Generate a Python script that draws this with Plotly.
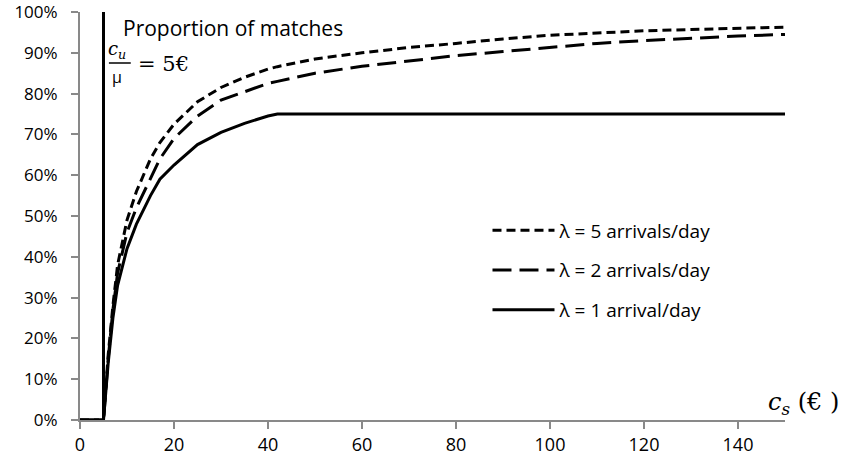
import plotly.graph_objects as go

# ---- data ----
cs = [0, 5, 6, 7, 8, 10, 12, 15, 17, 20, 25, 30, 35, 40, 42, 50, 60, 70, 80, 90, 100, 110, 120, 130, 140, 150]
lam5 = [0, 0, 0.16, 0.28, 0.38, 0.49, 0.56, 0.64, 0.68, 0.725, 0.78, 0.815, 0.84, 0.86, 0.866, 0.885, 0.90, 0.913, 0.923, 0.934, 0.943, 0.949, 0.954, 0.957, 0.960, 0.963]
lam2 = [0, 0, 0.15, 0.27, 0.36, 0.46, 0.52, 0.59, 0.64, 0.69, 0.745, 0.784, 0.805, 0.825, 0.83, 0.85, 0.867, 0.88, 0.893, 0.903, 0.913, 0.923, 0.930, 0.936, 0.941, 0.945]
lam1 = [0, 0, 0.14, 0.25, 0.33, 0.42, 0.48, 0.55, 0.59, 0.625, 0.675, 0.705, 0.727, 0.745, 0.75, 0.75, 0.75, 0.75, 0.75, 0.75, 0.75, 0.75, 0.75, 0.75, 0.75, 0.75]
names = ["λ = 5 arrivals/day", "λ = 2 arrivals/day", "λ = 1 arrival/day"]
cu_mu = 5
x_ticks = [0, 20, 40, 60, 80, 100, 120, 140]
y_ticks = [0, 0.1, 0.2, 0.3, 0.4, 0.5, 0.6, 0.7, 0.8, 0.9, 1.0]
y_labels = ["0%", "10%", "20%", "30%", "40%", "50%", "60%", "70%", "80%", "90%", "100%"]

FONT = "'Open Sans', Lato, sans-serif"
SERIF = "'DejaVu Serif', serif"

fig = go.Figure()
for y, name, dash in [(lam5, names[0], "9px,5px"), (lam2, names[1], "19px,8px"), (lam1, names[2], "solid")]:
    fig.add_trace(go.Scatter(x=cs, y=y, mode="lines", name=name,
                             line=dict(color="black", width=3, dash=dash)))

fig.add_shape(type="line", xref="x", yref="y", x0=cu_mu, x1=cu_mu, y0=0, y1=1,
              line=dict(color="black", width=3))

fig.add_annotation(xref="paper", yref="paper", x=0.058, y=0.962, xanchor="left", yanchor="middle",
                   text="Proportion of matches", showarrow=False,
                   font=dict(family=FONT, size=21, color="black"))
# fraction c_u / mu = 5€
fig.add_annotation(xref="paper", yref="paper", x=0.0525, y=0.906, xanchor="center", yanchor="middle",
                   text="<i>c<sub>u</sub></i>", showarrow=False,
                   font=dict(family=SERIF, size=18, color="black"))
fig.add_shape(type="line", xref="paper", yref="paper", x0=0.041, x1=0.072, y0=0.875, y1=0.875,
              line=dict(color="black", width=1.5))
fig.add_annotation(xref="paper", yref="paper", x=0.0525, y=0.84, xanchor="center", yanchor="middle",
                   text="μ", showarrow=False,
                   font=dict(family=FONT, size=16, color="black"))
fig.add_annotation(xref="paper", yref="paper", x=0.079, y=0.873, xanchor="left", yanchor="middle",
                   text="= 5€", showarrow=False,
                   font=dict(family=SERIF, size=21, color="black"))
# axis label
fig.add_annotation(xref="paper", yref="paper", x=1.08, y=0.04, xanchor="right", yanchor="middle",
                   text="<i>c<sub>s</sub></i> (€ )", showarrow=False,
                   font=dict(family=SERIF, size=24, color="black"))

fig.update_layout(
    width=843, height=463,
    margin=dict(l=80, r=58, t=12, b=43, autoexpand=False),
    plot_bgcolor="white", paper_bgcolor="white",
    font=dict(family=FONT, size=16, color="black"),
    showlegend=True,
    legend=dict(x=0.578, y=0.511, xanchor="left", yanchor="top", bgcolor="rgba(0,0,0,0)",
                font=dict(family=FONT, size=19, color="black"), itemwidth=62,
                tracegroupgap=12),
    xaxis=dict(range=[0, 150], tickvals=x_ticks, showgrid=False, zeroline=False,
               showline=True, linecolor="#898989", linewidth=2, ticks="outside",
               tickcolor="#898989", ticklen=7, tickwidth=2, automargin=False,
               ticklabeloverflow="allow",
               tickfont=dict(family=FONT, size=18, color="black")),
    yaxis=dict(range=[0, 1], tickvals=y_ticks, ticktext=y_labels, showgrid=False, zeroline=False,
               showline=True, linecolor="#898989", linewidth=2, ticks="outside",
               tickcolor="#898989", ticklen=7, tickwidth=2, ticklabelstandoff=10, automargin=False,
               ticklabeloverflow="allow",
               tickfont=dict(family=FONT, size=17, color="black")),
)
for i, tr in enumerate(fig.data):
    tr.legendgroup = f"g{i}"

fig.write_html("out.html", config={"displayModeBar": False},
               post_script="document.body.style.margin='0';")
